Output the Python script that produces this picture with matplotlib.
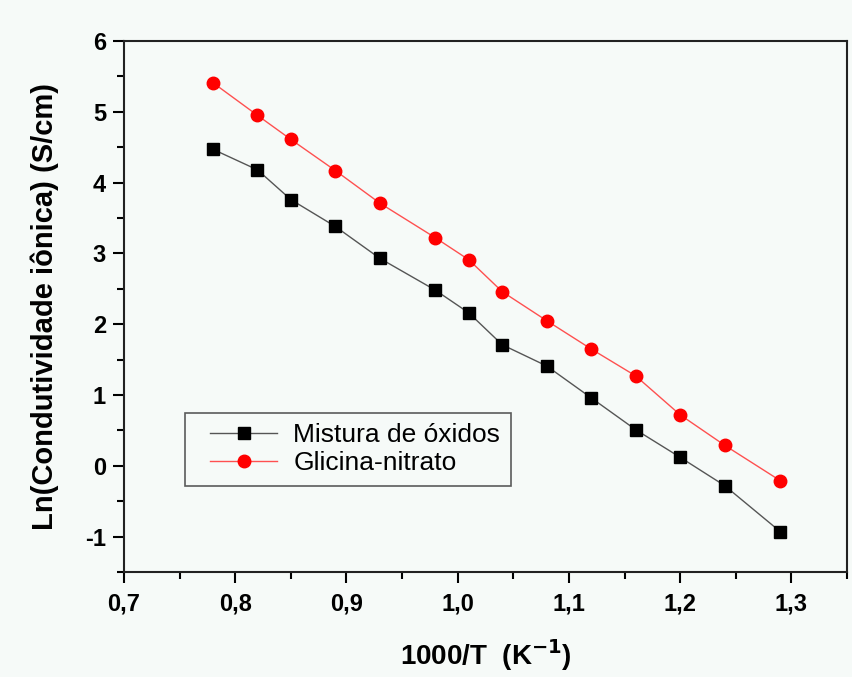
import matplotlib
matplotlib.use("Agg")
import matplotlib.pyplot as plt
from matplotlib.ticker import MultipleLocator, FuncFormatter
from matplotlib.legend_handler import HandlerLine2D

x = [0.78, 0.82, 0.85, 0.89, 0.93, 0.98, 1.01, 1.04, 1.08, 1.12, 1.16, 1.20, 1.24, 1.29]
mistura = [4.47, 4.18, 3.76, 3.38, 2.93, 2.48, 2.16, 1.71, 1.41, 0.96, 0.51, 0.12, -0.28, -0.93]
glicina = [5.41, 4.95, 4.61, 4.17, 3.71, 3.22, 2.91, 2.46, 2.05, 1.65, 1.27, 0.72, 0.29, -0.21]

plt.rcParams['font.family'] = ['Liberation Sans', 'DejaVu Sans']
bg = '#f6faf8'
fig = plt.figure(figsize=(8.53, 6.77), dpi=100, facecolor=bg)
ax = fig.add_axes([124/853, 1 - 572/677, (847-124)/853, (572-41)/677])
ax.set_facecolor(bg)

l1, = ax.plot(x, mistura, color='#555555', lw=1, marker='s', ms=8, mfc='black', mec='black', label='Mistura de óxidos')
l2, = ax.plot(x, glicina, color='#ff5050', lw=1, marker='o', ms=9, mfc='red', mec='red', label='Glicina-nitrato')

ax.set_xlim(0.7, 1.35)
ax.set_ylim(-1.5, 6)
ax.xaxis.set_major_locator(MultipleLocator(0.1))
ax.xaxis.set_minor_locator(MultipleLocator(0.05))
ax.yaxis.set_major_locator(MultipleLocator(1))
ax.yaxis.set_minor_locator(MultipleLocator(0.5))
ax.xaxis.set_major_formatter(FuncFormatter(lambda v, p: f"{v:.1f}".replace('.', ',')))
ax.yaxis.set_major_formatter(FuncFormatter(lambda v, p: f"{v:.0f}"))
ax.tick_params(which='major', direction='out', length=8, width=1.5, labelsize=17)
ax.tick_params(axis='y', which='major', pad=5)
ax.tick_params(axis='x', which='major', pad=7)
ax.tick_params(which='minor', direction='out', length=5, width=1.5)
for lab in ax.get_xticklabels() + ax.get_yticklabels():
    lab.set_fontweight('bold')
for s in ax.spines.values():
    s.set_linewidth(1.5)
    s.set_color('#222222')

ax.set_xlabel('1000/T  (K$^{\\mathbf{-1}}$)', fontsize=20, fontweight='bold', labelpad=15)
ax.set_ylabel('Ln(Condutividade iônica) (S/cm)', fontsize=21, fontweight='bold', labelpad=19)

hm = {l1: HandlerLine2D(xpad=0.55), l2: HandlerLine2D(xpad=0.55)}
leg = ax.legend(handles=[l1, l2], handler_map=hm, loc='lower left', bbox_to_anchor=(0.0844, 0.162),
                fontsize=19, frameon=True, fancybox=False, edgecolor='#333333', facecolor=bg,
                borderpad=0.4, handlelength=3.1, handletextpad=0.6, labelspacing=0.15, borderaxespad=0)
leg.get_frame().set_linewidth(1.2)

fig.savefig('out.png', dpi=100, facecolor=bg)
